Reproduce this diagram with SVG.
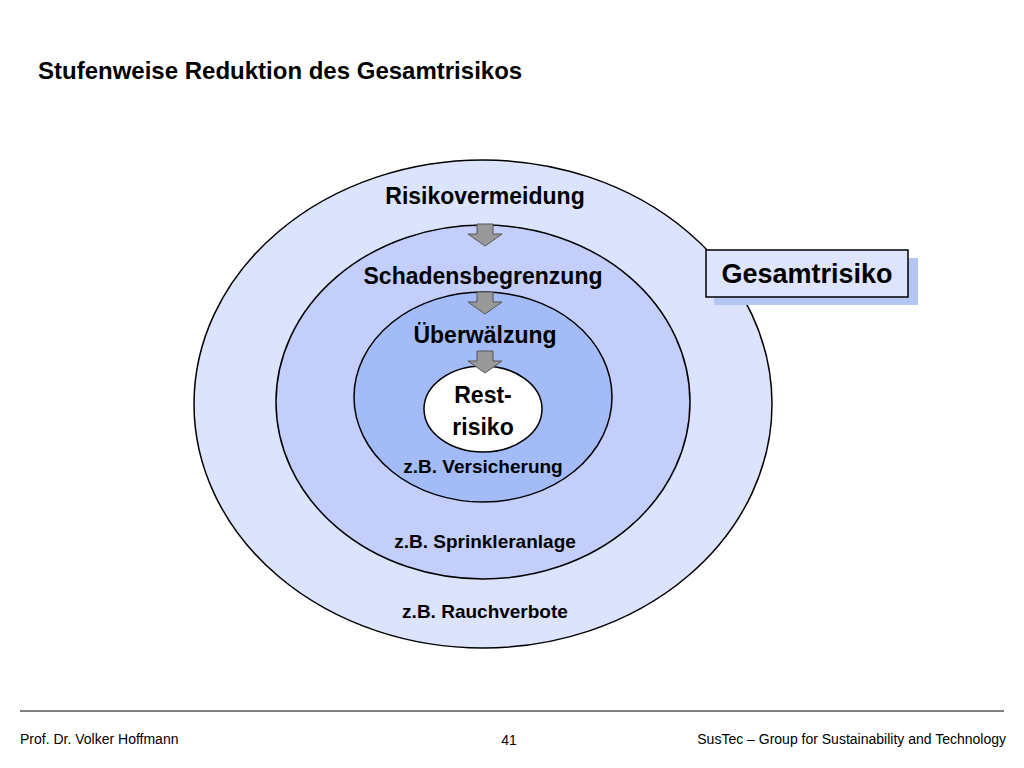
<svg xmlns="http://www.w3.org/2000/svg" width="1024" height="768" viewBox="0 0 1024 768">
<style>
text{font-family:"Liberation Sans",Arial,sans-serif;font-weight:bold;fill:#000}
.l{font-size:23px}
.s{font-size:19px}
.f{font-size:14px;font-weight:normal}
.e{stroke:#000;stroke-width:1.5}
.a{fill:#999;stroke:#555;stroke-width:1}
</style>
<defs><path id="arr" d="M-8,0 H8 V10 H17 L0,22 L-17,10 H-8 Z"/></defs>
<rect width="1024" height="768" fill="#fff"/>
<text x="38" y="79" style="font-size:24px">Stufenweise Reduktion des Gesamtrisikos</text>
<g id="n1"><ellipse class="e" cx="483" cy="404" rx="289" ry="244" fill="#dce3fc"/>
<text class="l" x="485" y="204" text-anchor="middle">Risikovermeidung</text>
<text class="s" x="485" y="618" text-anchor="middle">z.B. Rauchverbote</text></g>
<g id="n2"><ellipse class="e" cx="483" cy="402" rx="207" ry="177" fill="#c3cefb"/>
<text class="l" x="483" y="284" text-anchor="middle">Schadensbegrenzung</text>
<text class="s" x="485" y="548" text-anchor="middle">z.B. Sprinkleranlage</text></g>
<g id="n3"><ellipse class="e" cx="483" cy="397" rx="129" ry="105" fill="#a3bcf8"/>
<text class="l" x="485" y="343" text-anchor="middle">Überwälzung</text>
<text class="s" x="483" y="473" text-anchor="middle">z.B. Versicherung</text></g>
<g id="n4"><ellipse class="e" cx="483" cy="409" rx="59" ry="43" fill="#fff"/>
<text class="l" x="483" y="403" text-anchor="middle">Rest-</text>
<text class="l" x="483" y="435" text-anchor="middle">risiko</text></g>
<g id="connectors">
<use href="#arr" class="a" x="485" y="224"/>
<use href="#arr" class="a" x="485" y="292"/>
<use href="#arr" class="a" x="485" y="351"/>
</g>
<g id="n5">
<rect x="714" y="258" width="204" height="47" fill="#b4c6f2"/>
<rect x="706" y="250" width="202" height="47" fill="#dde4fb" stroke="#000" stroke-width="1.5"/>
<text x="807" y="283" text-anchor="middle" style="font-size:27px">Gesamtrisiko</text>
</g>
<line x1="20" y1="711" x2="1004" y2="711" stroke="#000" stroke-width="1"/>
<text class="f" x="20" y="744">Prof. Dr. Volker Hoffmann</text>
<text class="f" x="509" y="745" text-anchor="middle">41</text>
<text class="f" x="1006" y="744" text-anchor="end">SusTec – Group for Sustainability and Technology</text>
</svg>
